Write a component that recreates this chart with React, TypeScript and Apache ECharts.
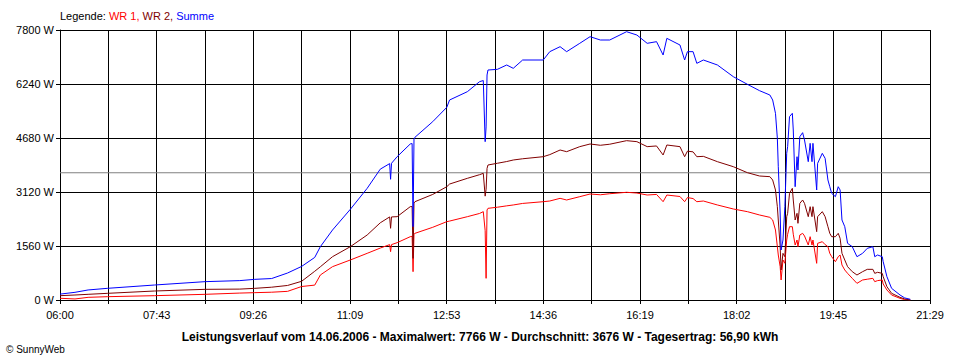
import { useEffect, useRef } from 'react';
import * as echarts from 'echarts';

// ---- axis definitions ----
const xTickLabels = ['06:00', '07:43', '09:26', '11:09', '12:53', '14:36', '16:19', '18:02', '19:45', '21:29'];
const axisStartMin = 360; // 06:00
const axisEndMin = 1289; // 21:29
const xSteps = 18;
const yMax = 7800;
const yStep = 1560;

// ---- data ----
const times = [
  '06:00', '06:16', '06:30', '06:51', '07:41', '08:35', '09:12', '09:28', '09:46', '10:03',
  '10:18', '10:32', '10:38', '10:51', '11:10', '11:28', '11:42', '11:52', '11:53', '11:54',
  '12:00', '12:14', '12:16', '12:17', '12:18', '12:19', '12:38', '12:53', '12:56', '13:15',
  '13:28', '13:32', '13:34', '13:35', '13:36', '13:37', '13:47', '13:57', '14:04', '14:14',
  '14:36', '14:43', '14:54', '15:01', '15:15', '15:26', '15:37', '15:47', '16:05', '16:16',
  '16:27', '16:37', '16:44', '16:48', '17:02', '17:07', '17:10', '17:16', '17:20', '17:27',
  '17:42', '17:59', '18:14', '18:27', '18:38', '18:41', '18:44', '18:46', '18:47', '18:49',
  '18:50', '18:52', '18:54', '18:56', '18:57', '18:59', '19:02', '19:03', '19:05', '19:07',
  '19:08', '19:10', '19:13', '19:15', '19:19', '19:21', '19:23', '19:24', '19:28', '19:29',
  '19:34', '19:37', '19:40', '19:42', '19:44', '19:48', '19:51', '19:53', '19:55', '19:58',
  '20:01', '20:06', '20:11', '20:17', '20:22', '20:28', '20:30', '20:33', '20:38', '20:39',
  '20:43', '20:48', '20:57', '21:02', '21:08',
];

const wr1 = [
  50, 30, 77, 96, 125, 164, 200, 212, 225, 250,
  390, 430, 722, 963, 1156, 1348, 1500, 1600, 1396, 1600,
  1656, 1829, 1840, 818, 1900, 1926, 2100, 2263, 2280, 2407,
  2500, 2552, 2000, 626, 2600, 2648, 2680, 2720, 2745, 2790,
  2840, 2860, 2937, 2889, 2985, 3062, 3040, 3070, 3111, 3090,
  3033, 3050, 2840, 3033, 2990, 2840, 2960, 2930, 2840, 2860,
  2745, 2629, 2552, 2456, 2388, 2311, 2022, 1540, 1300, 963,
  578, 1156, 1060, 1733, 1900, 2118, 2118, 1900, 1589, 1733,
  1540, 1878, 1926, 1850, 1589, 1829, 1589, 1733, 1059, 1637,
  1685, 1600, 1540, 1348, 1251, 1107, 1251, 1300, 1011, 867,
  770, 626, 481, 578, 600, 626, 530, 560, 578, 462,
  289, 144, 48, 10, 0,
];

const wr2 = [
  125, 144, 164, 193, 260, 308, 315, 337, 370, 420,
  540, 830, 960, 1251, 1540, 1878, 2230, 2400, 2071, 2400,
  2407, 2696, 2700, 1203, 2800, 2840, 3050, 3273, 3350, 3515,
  3620, 3659, 3000, 3200, 3800, 3900, 3950, 4000, 4044, 4080,
  4140, 4200, 4333, 4285, 4430, 4507, 4470, 4500, 4603, 4574,
  4430, 4450, 4189, 4478, 4430, 4140, 4300, 4280, 4140, 4150,
  3996, 3851, 3678, 3582, 3563, 3467, 3178, 2696, 2311, 1540,
  867, 1348, 1251, 2407, 2504, 3082, 3226, 2889, 2311, 2504,
  2215, 2793, 2889, 2793, 2407, 2696, 2407, 2696, 1974, 2407,
  2552, 2407, 2118, 1926, 1829, 1829, 1926, 1781, 1348, 1156,
  963, 818, 722, 818, 886, 886, 770, 800, 770, 674,
  385, 193, 77, 30, 0,
];

const summe = [
  170, 222, 290, 338, 433, 530, 560, 597, 620, 780,
  970, 1230, 1540, 2022, 2619, 3226, 3780, 3940, 3487, 3950,
  4140, 4507, 4520, 2118, 4650, 4700, 5152, 5566, 5778, 6018,
  6307, 6340, 4574, 5000, 6500, 6644, 6663, 6789, 6693, 6933,
  6933, 7174, 7318, 7174, 7415, 7607, 7511, 7511, 7751, 7655,
  7415, 7463, 7078, 7559, 7367, 6933, 7174, 7174, 6837, 6933,
  6789, 6451, 6231, 6047, 5922, 5778, 5393, 4671, 3851, 2513,
  1444, 1733, 2696, 4237, 4430, 5297, 5393, 4911, 3273, 4140,
  3756, 4718, 4834, 4622, 3996, 4526, 3996, 4526, 3178, 3948,
  4237, 4093, 3467, 3273, 3082, 2985, 3273, 3178, 2311, 2118,
  1637, 1540, 1251, 1348, 1492, 1540, 1251, 1300, 1251, 1107,
  674, 337, 144, 60, 20,
];

const averageW = 3676;

const legendParts = [
  { key: 'k', text: 'Legende: ' },
  { key: 'r', text: 'WR 1, ' },
  { key: 'd', text: 'WR 2, ' },
  { key: 'b', text: 'Summe' },
];
const footerTitle = 'Leistungsverlauf vom 14.06.2006 - Maximalwert: 7766 W - Durchschnitt: 3676 W - Tagesertrag: 56,90 kWh';
const copyright = '© SunnyWeb';

const COLORS = { wr1: '#ff0000', wr2: '#800000', summe: '#0000ff', avg: '#808080' };
const FONT = 'Liberation Sans, Arial, sans-serif';

function toX(t: string): number {
  const [h, m] = t.split(':').map(Number);
  return ((h * 60 + m - axisStartMin) * xSteps) / (axisEndMin - axisStartMin);
}

function pairs(vals: number[]) {
  return times.map((t, i) => [toX(t), vals[i]]);
}

export default function App() {
  const ref = useRef<HTMLDivElement>(null);

  useEffect(() => {
    if (!ref.current) return;
    const chart = echarts.init(ref.current, undefined, { renderer: 'svg' });
    const lineSeries = (name: string, vals: number[], color: string) => ({
      name,
      type: 'line',
      data: pairs(vals),
      showSymbol: false,
      symbol: 'none',
      lineStyle: { color, width: 1 },
      itemStyle: { color },
      z: 3,
    });
    chart.setOption({
      animation: false,
      backgroundColor: '#ffffff',
      grid: { left: 60, right: 30, top: 30, bottom: 60, containLabel: false },
      xAxis: {
        type: 'value',
        min: 0,
        max: xSteps,
        interval: 1,
        axisLine: { show: true, lineStyle: { color: '#000', width: 1 } },
        axisTick: { show: true, length: 4, lineStyle: { color: '#000' } },
        splitLine: { show: true, lineStyle: { color: '#000', width: 1 } },
        axisLabel: {
          color: '#000',
          fontFamily: FONT,
          fontSize: 11,
          margin: 9,
          showMinLabel: true,
          showMaxLabel: true,
          formatter: (v: number) => {
            const i = Math.round(v);
            return i % 2 === 0 ? xTickLabels[i / 2] ?? '' : '';
          },
        },
      },
      yAxis: {
        type: 'value',
        min: 0,
        max: yMax,
        interval: yStep,
        axisLine: { show: true, lineStyle: { color: '#000', width: 1 } },
        axisTick: { show: true, length: 4, lineStyle: { color: '#000' } },
        splitLine: { show: true, lineStyle: { color: '#000', width: 1 } },
        axisLabel: {
          color: '#000',
          fontFamily: FONT,
          fontSize: 11,
          margin: 6,
          formatter: (v: number) => `${v} W`,
        },
      },
      series: [
        {
          name: 'Durchschnitt',
          type: 'line',
          data: [[0, averageW], [xSteps, averageW]],
          showSymbol: false,
          symbol: 'none',
          lineStyle: { color: COLORS.avg, width: 1 },
          z: 2,
        },
        lineSeries('WR 1', wr1, COLORS.wr1),
        lineSeries('WR 2', wr2, COLORS.wr2),
        lineSeries('Summe', summe, COLORS.summe),
      ],
      graphic: [
        {
          type: 'text',
          left: 60,
          top: 10,
          style: {
            text: legendParts.map((p) => `{${p.key}|${p.text}}`).join(''),
            rich: {
              k: { fill: '#000', fontFamily: FONT, fontSize: 11 },
              r: { fill: COLORS.wr1, fontFamily: FONT, fontSize: 11 },
              d: { fill: COLORS.wr2, fontFamily: FONT, fontSize: 11 },
              b: { fill: COLORS.summe, fontFamily: FONT, fontSize: 11 },
            },
          },
        },
        {
          type: 'text',
          x: 480,
          y: 337,
          style: {
            text: footerTitle,
            fill: '#000',
            fontFamily: FONT,
            fontSize: 12,
            fontWeight: 'bold',
            align: 'center',
            verticalAlign: 'middle',
          },
        },
        {
          type: 'text',
          x: 6,
          y: 349,
          style: {
            text: copyright,
            fill: '#000',
            fontFamily: FONT,
            fontSize: 10,
            align: 'left',
            verticalAlign: 'middle',
          },
        },
      ],
    });
    return () => chart.dispose();
  }, []);

  return (
    <div
      ref={ref}
      style={{ position: 'fixed', left: 0, top: 0, width: 960, height: 360, background: '#fff' }}
    />
  );
}
